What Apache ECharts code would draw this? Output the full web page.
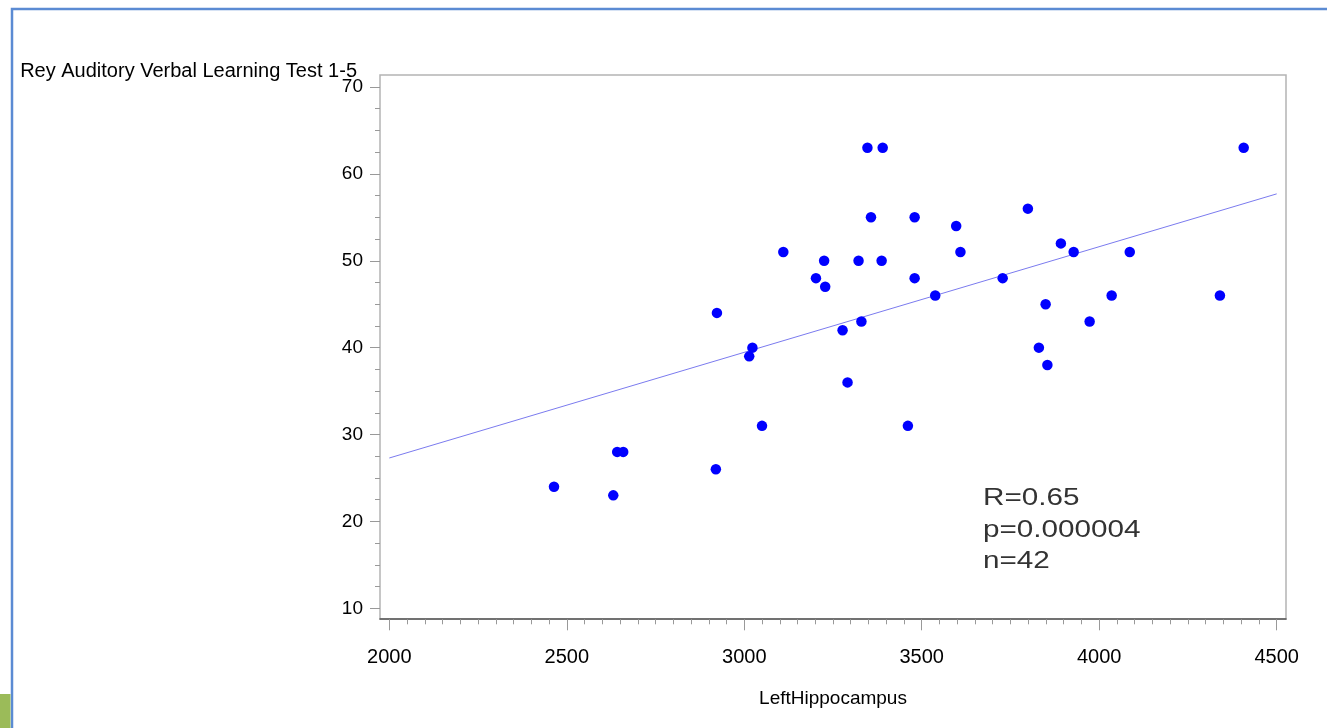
<!DOCTYPE html>
<html>
<head>
<meta charset="utf-8">
<script src="https://cdn.jsdelivr.net/npm/echarts@6/dist/echarts.min.js"></script>
<style>
html,body{margin:0;padding:0;background:#fff;}
#chart{width:1327px;height:728px;}
</style>
</head>
<body>
<div id="chart"></div>
<script>
// ---- data ----
const xValues = [2464, 2631, 2642, 2659, 2920, 2923, 3014, 3023, 3050, 3110, 3202, 3225, 3228, 3277, 3291, 3322, 3330, 3347, 3357, 3387, 3390, 3461, 3480, 3480, 3538, 3597, 3609, 3728, 3799, 3830, 3849, 3854, 3892, 3928, 3973, 4035, 4086, 4340, 4407];
const yValues = [24, 23, 28, 28, 26, 44, 39, 40, 31, 51, 48, 50, 47, 42, 36, 50, 43, 63, 55, 50, 63, 31, 55, 48, 46, 54, 51, 48, 56, 40, 45, 38, 52, 51, 43, 46, 51, 46, 63];
const fitX = [2000, 4500];
const fitY = [27.3, 57.7];
const xTicks = { min: 2000, max: 4500, interval: 500 };
const yTicks = { min: 10, max: 70, interval: 10 };
const xName = 'LeftHippocampus';
const yName = 'Rey Auditory Verbal Learning Test 1-5';
const statLines = ['R=0.65', 'p=0.000004', 'n=42'];

const points = xValues.map((x, i) => [x, yValues[i]]);
const fitLine = fitX.map((x, i) => [x, fitY[i]]);

const FONT = "'Liberation Sans', Arial, Helvetica, sans-serif";
const chart = echarts.init(document.getElementById('chart'), null, { renderer: 'canvas' });

const option = {
  backgroundColor: '#ffffff',
  animation: false,
  textStyle: { fontFamily: FONT },
  grid: [
    { // frame box
      left: 380, top: 75, width: 906, height: 544,
      show: true, borderColor: '#b4b4b4', borderWidth: 1.5, backgroundColor: '#fff'
    },
    { // data area
      left: 389.3, right: 50.3, top: 87, bottom: 119.7, show: false
    }
  ],
  xAxis: [
    {
      gridIndex: 0, type: 'value', min: 0, max: 1,
      axisLine: { show: true, onZero: false, lineStyle: { color: '#555', width: 1.5 } },
      axisTick: { show: false }, axisLabel: { show: false }, splitLine: { show: false }
    },
    {
      gridIndex: 1, type: 'value', min: xTicks.min, max: xTicks.max, interval: xTicks.interval,
      offset: 11,
      name: xName, nameLocation: 'middle', nameGap: 70,
      nameTextStyle: { color: '#000', fontSize: 19, fontFamily: FONT },
      axisLine: { show: false },
      axisTick: { show: true, length: 11, lineStyle: { color: '#999', width: 1 } },
      minorTick: { show: true, splitNumber: 10, length: 5, lineStyle: { color: '#999', width: 1 } },
      axisLabel: { color: '#000', fontSize: 20, margin: 28, fontFamily: FONT, formatter: v => String(v) },
      splitLine: { show: false }
    }
  ],
  yAxis: [
    {
      gridIndex: 0, type: 'value', min: 0, max: 1, show: false
    },
    {
      gridIndex: 1, type: 'value', min: yTicks.min, max: yTicks.max, interval: yTicks.interval,
      offset: 9.3,
      name: yName, nameLocation: 'end', nameGap: 16, nameMoveOverlap: false,
      nameTextStyle: { color: '#000', fontSize: 20, fontFamily: FONT, align: 'right', verticalAlign: 'middle', padding: [0, 23, 0, 0] },
      axisLine: { show: false },
      axisTick: { show: true, length: 10, lineStyle: { color: '#999', width: 1 } },
      minorTick: { show: true, splitNumber: 4, length: 5, lineStyle: { color: '#999', width: 1 } },
      axisLabel: { color: '#000', fontSize: 19, margin: 17, fontFamily: FONT, formatter: v => String(v) },
      splitLine: { show: false }
    }
  ],
  series: [
    {
      type: 'line', xAxisIndex: 1, yAxisIndex: 1, data: fitLine,
      showSymbol: false, symbol: 'none',
      lineStyle: { color: '#7b7bef', width: 1 }, silent: true, z: 2
    },
    {
      type: 'scatter', xAxisIndex: 1, yAxisIndex: 1, data: points,
      symbol: 'circle', symbolSize: 10.5,
      itemStyle: { color: '#0000ff', opacity: 1 }, z: 3
    }
  ],
  graphic: [
    { type: 'polyline', shape: { points: [[12, 728], [12, 9], [1327, 9]] },
      style: { stroke: '#5b8bd3', lineWidth: 2.5, fill: null }, z: 10 },
    { type: 'rect', shape: { x: 0, y: 694, width: 10.5, height: 34 },
      style: { fill: '#9bbb59' }, z: 10 },
    ...statLines.map((t, i) => ({
      type: 'text', x: 983, y: [499, 531, 562][i], scaleX: 1.29, scaleY: 1,
      style: { text: t, fill: '#333', font: '23px ' + FONT, textAlign: 'left', textVerticalAlign: 'middle', verticalAlign: 'middle' },
      z: 10
    }))
  ]
};
chart.setOption(option);
</script>
</body>
</html>
